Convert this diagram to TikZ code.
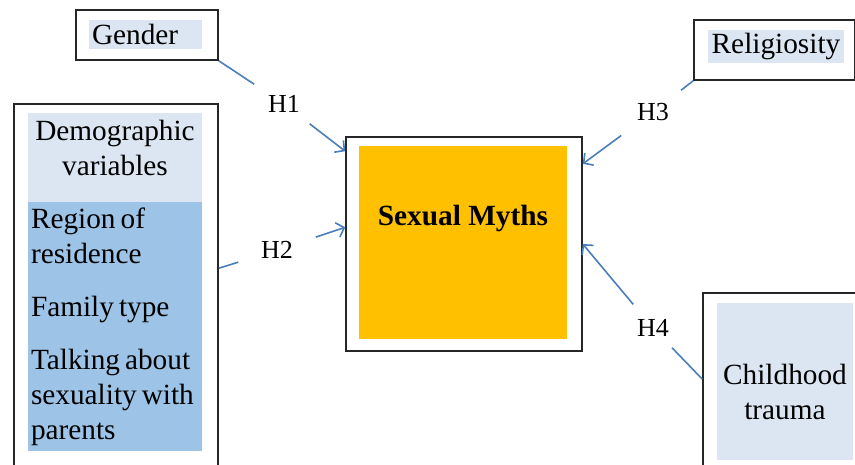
\documentclass[tikz,border=0pt]{standalone}
\usepackage{fontspec}
\setmainfont{Liberation Serif}
\usetikzlibrary{arrows.meta,positioning}
\definecolor{paleblue}{HTML}{DCE6F2}
\definecolor{midblue}{HTML}{9DC3E6}
\definecolor{mythorange}{HTML}{FFC000}
\definecolor{linkblue}{HTML}{4A7EBB}

\begin{document}
\begin{tikzpicture}[
	x = 1pt, y = -1pt, % pixel grid, y downwards
	> = {Straight Barb[length=7pt,width=15pt]}, % open arrow head
	font = \fontsize{29.3}{35}\selectfont,
	B/.style={draw=black!85, line width=1.5pt, inner sep=0pt},  % outer frame
	P/.style={fill=paleblue, inner xsep=3pt, inner ysep=0pt},    % pale fill
	D/.style={fill=midblue, inner xsep=3pt, inner ysep=0pt,      % darker fill
		execute at begin node={\spaceskip=5pt plus 1pt\relax}},
	H/.style={inner xsep=16pt, inner ysep=11pt, font=\fontsize{26}{30}\selectfont},
	link/.style={draw=linkblue, line width=1.6pt},
	]
	\useasboundingbox (0,0) rectangle (855,465);
	\clip (0,0) rectangle (855,465);

	% Frames
	\node[B, minimum width=142pt, minimum height=50pt] (gender) at (147,35) {};
	\node[B, minimum width=204pt, minimum height=376pt] (demo) at (116,292) {};
	\node[B, minimum width=236pt, minimum height=214pt] (mythsframe) at (464,244) {};
	\node[B, minimum width=161pt, minimum height=60pt] (relig) at (774.5,50) {};
	\node[B, minimum width=167pt, minimum height=187pt] (child) at (786.5,386.5) {};

	% Filled boxes and their texts
	\node[P, text width=107pt, minimum height=29pt, align=left] (gendertxt) at (145.5,34.5) {Gender};
	\node[P, text width=168pt, minimum height=89pt, align=center, text depth=55pt] (demohead) at (115,157.5) {Demographic\\variables};
	\node[D, text width=168pt, minimum height=249pt, align=left] (demolist) [below = 0 of demohead]
		{Region of\\residence\\[18pt]Family type\\[18pt]Talking about\\sexuality with\\parents};
	\node[fill=mythorange, minimum width=208pt, minimum height=193pt, text depth=55pt, font=\fontsize{29.3}{35}\selectfont\bfseries] (myths) at (463,242.5) {Sexual Myths};
	\node[P, text width=130pt, minimum height=33pt, align=center] (religtxt) at (776,46.5) {Religiosity};
	\node[P, text width=130pt, minimum height=157pt, align=center, text height=42pt] (childtxt) at (785,381.5) {Childhood\\trauma};

	% Hypotheses
	\node[H] (h1) at (284,104) {H1};
	\node[H] (h2) at (277,250) {H2};
	\node[H] (h3) at (653,112) {H3};
	\node[H] (h4) at (653,328) {H4};

	% Paths connecting nodes
	\path[link] (gender.south east) edge (h1);
	\path[link,->] (h1) edge (mythsframe.142);
	\path[link] (demo.13) edge[shorten >=7pt] (h2);
	\path[link,->] (h2) edge[shorten <=7pt] (mythsframe.172);
	\path[link] (relig.south west) edge[shorten >=3pt] (h3);
	\path[link,->] (h3) edge[shorten <=6pt] (mythsframe.34.5);
	\path[link] (child.175.5) edge (h4);
	\path[link,->] (h4) edge[shorten <=5pt] (mythsframe.east);

\end{tikzpicture}
\end{document}
